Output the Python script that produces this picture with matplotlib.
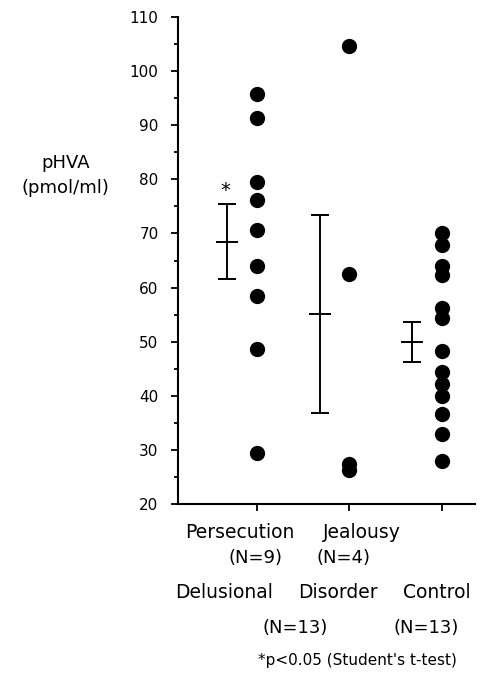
import matplotlib
matplotlib.use("Agg")
import matplotlib.pyplot as plt
import numpy as np

groups = ["Persecution", "Jealousy", "Control"]
persecution = [95.8, 91.4, 79.5, 76.1, 70.6, 64.0, 58.5, 48.7, 29.5]
jealousy = [104.7, 62.5, 27.4, 26.2]
control = [70.1, 67.8, 64.0, 62.3, 56.3, 54.3, 48.2, 44.4, 42.2, 40.0, 36.7, 32.9, 28.0]
means = [68.5, 55.2, 49.9]
errs = [7.0, 18.3, 3.75]
yticks = [20, 30, 40, 50, 60, 70, 80, 90, 100, 110]

W, H = 481, 676
fig = plt.figure(figsize=(W / 100, H / 100), dpi=100)
ax = fig.add_axes([178 / W, 1 - 504 / H, (475 - 178) / W, (504 - 17) / H])

pos = [1, 2, 3]
off = 0.32
for p, vals in zip(pos, [persecution, jealousy, control]):
    ax.plot([p] * len(vals), vals, 'o', color='black', markersize=11,
            markeredgewidth=0, clip_on=False)

ax.errorbar([p - off for p in pos], means, yerr=errs, fmt='_', color='black',
            markersize=16.5, markeredgewidth=1.4, elinewidth=1.4,
            capsize=6.8, capthick=1.4)
ax.text(pos[0] - off - 0.02, 76.9, '*', ha='center', va='baseline', fontsize=14)

ax.set_xlim(0.15, 3.36)
ax.set_ylim(20, 110)
ax.set_yticks(yticks)
ax.set_yticks(np.arange(25, 110, 10), minor=True)
ax.set_yticklabels([str(t) for t in yticks], fontsize=11)
ax.set_xticks(pos)
ax.set_xticklabels([])
ax.tick_params(axis='y', which='major', direction='out', length=5, width=1.3, pad=9)
ax.tick_params(axis='y', which='minor', direction='out', length=3, width=1.3)
ax.tick_params(axis='x', which='major', direction='out', length=5, width=1.3)
for s in ['top', 'right']:
    ax.spines[s].set_visible(False)
for s in ['left', 'bottom']:
    ax.spines[s].set_linewidth(1.5)

def ftext(x, y, s, size=13, **kw):
    fig.text(x / W, 1 - y / H, s, fontsize=size, ha='center', va='center', **kw)

ftext(66, 163, "pHVA", 13)
ftext(65, 188, "(pmol/ml)", 13)
ftext(240, 532, "Persecution", 13.5)
ftext(362, 532, "Jealousy", 13.5)
ftext(256, 558, "(N=9)", 13)
ftext(344, 558, "(N=4)", 13)
ftext(224, 592, "Delusional", 13.5)
ftext(338, 592, "Disorder", 13.5)
ftext(437, 592, "Control", 13.5)
ftext(295, 628, "(N=13)", 13)
ftext(426, 628, "(N=13)", 13)
ftext(357, 660, "*p<0.05 (Student's t-test)", 11)

fig.savefig("out.png", dpi=100)
